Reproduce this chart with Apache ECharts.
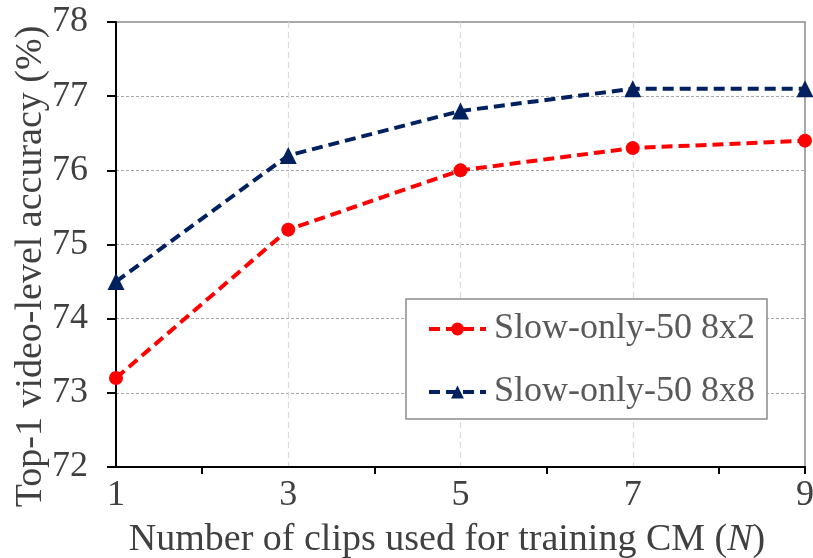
<!DOCTYPE html>
<html><head><meta charset="utf-8">
<script src="https://cdn.jsdelivr.net/npm/echarts@6/dist/echarts.min.js"></script>
<style>html,body{margin:0;padding:0;background:#fff}#c{width:813px;height:558px}</style>
</head><body><div id="c"></div>
<script>
const categories = ['1','2','3','4','5','6','7','8','9'];
const clipsN = ['1','3','5','7','9'];
const slow8x2 = [73.2, 75.2, 76.0, 76.3, 76.4];
const slow8x8 = [74.5, 76.2, 76.8, 77.1, 77.1];
const yTicks = [72, 73, 74, 75, 76, 77, 78];
const seriesNames = ['Slow-only-50 8x2', 'Slow-only-50 8x8'];

const font = '"Liberation Serif", "Times New Roman", serif';
const chart = echarts.init(document.getElementById('c'), null, {renderer: 'canvas'});
chart.setOption({
  animation: false,
  backgroundColor: '#fff',
  grid: {left: 116, right: 8, top: 22, bottom: 91, show: true, borderColor: '#8c8c8c', borderWidth: 1.5,
    backgroundColor: 'transparent', containLabel: false, outerBoundsMode: 'none'},
  legend: {
    left: 406, top: 299, orient: 'vertical',
    padding: [12, 12, 9, 21], itemGap: 27,
    itemWidth: 57, itemHeight: 16,
    borderColor: '#8c8c8c', borderWidth: 1.5, backgroundColor: '#fff',
    lineStyle: {width: 4},
    textStyle: {fontFamily: font, fontSize: 36, color: '#595959', padding: [0, 0, 0, 3]},
    data: seriesNames
  },
  xAxis: {
    type: 'category', data: categories, boundaryGap: false,
    axisLine: {lineStyle: {color: '#000', width: 2}},
    axisTick: {show: true, length: 7, lineStyle: {color: '#000', width: 2},
      interval: (i) => (i % 2 === 1) || i === 8},
    axisLabel: {fontFamily: font, fontSize: 36, color: '#404040', margin: 11,
      interval: (i) => i % 2 === 0},
    splitLine: {show: true, lineStyle: {color: '#d9d9d9', type: [6, 4], width: 1.2},
      interval: (i) => i === 2 || i === 4 || i === 6},
    name: 'Number of clips used for training CM ({i|N})',
    nameLocation: 'middle', nameGap: 54,
    nameTextStyle: {fontFamily: font, fontSize: 38, color: '#404040', padding: [0, 27, 0, 0],
      rich: {i: {fontFamily: font, fontSize: 38, fontStyle: 'italic', color: '#404040'}}}
  },
  yAxis: {
    type: 'value', min: yTicks[0], max: yTicks[yTicks.length - 1], interval: 1,
    axisLine: {show: true, lineStyle: {color: '#000', width: 2}},
    axisTick: {show: true, length: 9, lineStyle: {color: '#000', width: 2}},
    axisLabel: {fontFamily: font, fontSize: 36, color: '#404040', margin: 28},
    splitLine: {show: true, lineStyle: {color: '#a6a6a6', type: [3, 2], width: 1.2}},
    name: 'Top-1 video-level accuracy (%)',
    nameLocation: 'middle', nameGap: 66, nameRotate: 90, nameMoveOverlap: false,
    nameTextStyle: {fontFamily: font, fontSize: 38, color: '#404040', padding: [0, 44, 0, 0]}
  },
  series: [
    {
      name: seriesNames[0], type: 'line',
      data: clipsN.map((n, i) => [n, slow8x2[i]]),
      symbol: 'circle', symbolSize: 14,
      lineStyle: {color: '#ff0000', width: 4, type: [11, 6]},
      itemStyle: {color: '#ff0000'}, z: 3
    },
    {
      name: seriesNames[1], type: 'line',
      data: clipsN.map((n, i) => [n, slow8x8[i]]),
      symbol: 'triangle', symbolSize: 17,
      lineStyle: {color: '#002060', width: 4, type: [11, 6]},
      itemStyle: {color: '#002060'}, z: 3
    }
  ]
});
</script></body></html>
